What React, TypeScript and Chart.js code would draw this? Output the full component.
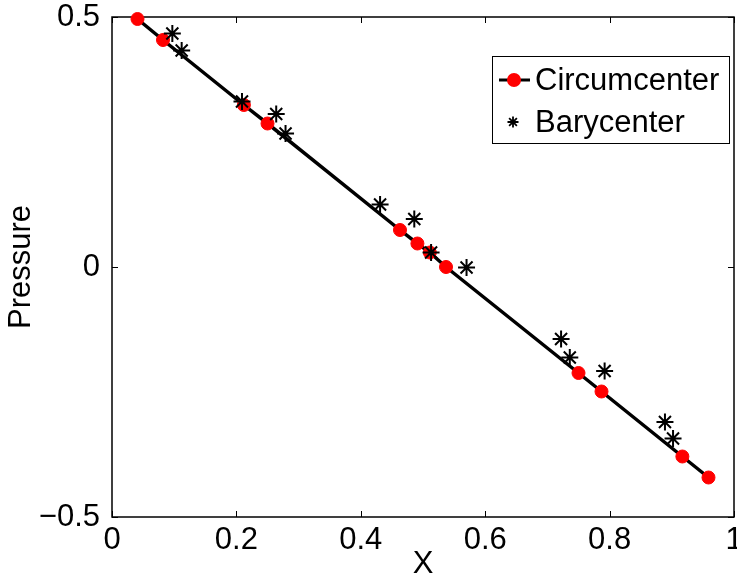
import React, { useEffect, useRef } from "react";
import { Chart, registerables } from "chart.js";

Chart.register(...registerables);

const circX = [0.041, 0.082, 0.212, 0.25, 0.463, 0.491, 0.511, 0.537, 0.75, 0.787, 0.917, 0.959];
const circY = [0.496, 0.454, 0.324, 0.287, 0.074, 0.047, 0.029, 0.0, -0.212, -0.249, -0.379, -0.421];
const baryX = [0.097, 0.112, 0.209, 0.264, 0.279, 0.431, 0.486, 0.513, 0.57, 0.722, 0.736, 0.792, 0.889, 0.902];
const baryY = [0.467, 0.433, 0.331, 0.306, 0.267, 0.125, 0.096, 0.029, -0.001, -0.144, -0.181, -0.208, -0.31, -0.343];
const xTicks = [0, 0.2, 0.4, 0.6, 0.8, 1];
const yTicks = [-0.5, 0, 0.5];
const seriesNames = ["Circumcenter", "Barycenter"];

const FONT = "'Liberation Sans', Arial, Helvetica, sans-serif";

function fmt(v: number): string {
  const s = String(Number(v.toFixed(2)));
  return s.replace("-", "\u2212");
}

function drawStar(ctx: CanvasRenderingContext2D, x: number, y: number, r: number) {
  ctx.beginPath();
  ctx.moveTo(x - r, y);
  ctx.lineTo(x + r, y);
  ctx.moveTo(x, y - r);
  ctx.lineTo(x, y + r);
  const d = r * Math.SQRT1_2;
  ctx.moveTo(x - d, y - d);
  ctx.lineTo(x + d, y + d);
  ctx.moveTo(x - d, y + d);
  ctx.lineTo(x + d, y - d);
  ctx.stroke();
}

const framePlugin = {
  id: "matlabFrame",
  beforeDatasetsDraw(chart: any) {
    const { ctx, chartArea } = chart;
    const { left, right, top, bottom } = chartArea;
    const xs = chart.scales.x;
    const ys = chart.scales.y;
    ctx.save();
    ctx.strokeStyle = "#000";
    ctx.lineWidth = 1.5;
    ctx.strokeRect(left, top, right - left, bottom - top);
    ctx.lineWidth = 1;
    const tl = 6;
    ctx.beginPath();
    for (const v of xTicks) {
      const px = Math.round(xs.getPixelForValue(v)) + 0.5;
      ctx.moveTo(px, bottom);
      ctx.lineTo(px, bottom - tl);
      ctx.moveTo(px, top);
      ctx.lineTo(px, top + tl);
    }
    for (const v of yTicks) {
      const py = Math.round(ys.getPixelForValue(v)) + 0.5;
      ctx.moveTo(left, py);
      ctx.lineTo(left + tl, py);
      ctx.moveTo(right, py);
      ctx.lineTo(right - tl, py);
    }
    ctx.stroke();
    ctx.fillStyle = "#000";
    ctx.font = `31px ${FONT}`;
    ctx.textAlign = "center";
    ctx.textBaseline = "alphabetic";
    for (const v of xTicks) {
      ctx.fillText(fmt(v), xs.getPixelForValue(v), bottom + 32);
    }
    ctx.restore();
  },
  afterDraw(chart: any) {
    const { ctx, chartArea } = chart;
    const bx = chartArea.right - 242;
    const by = chartArea.top + 39;
    const bw = 237;
    const bh = 87;
    ctx.save();
    ctx.fillStyle = "#fff";
    ctx.fillRect(bx, by, bw, bh);
    ctx.strokeStyle = "#000";
    ctx.lineWidth = 1;
    ctx.strokeRect(bx + 0.5, by + 0.5, bw, bh);
    const y1 = by + 24;
    const y2 = by + 66;
    ctx.lineWidth = 3;
    ctx.beginPath();
    ctx.moveTo(bx + 7, y1);
    ctx.lineTo(bx + 38, y1);
    ctx.stroke();
    ctx.fillStyle = "#ff0000";
    ctx.beginPath();
    ctx.arc(bx + 22, y1, 7, 0, Math.PI * 2);
    ctx.fill();
    ctx.lineWidth = 1.8;
    ctx.strokeStyle = "#000";
    drawStar(ctx, bx + 21, y2, 5.5);
    ctx.fillStyle = "#000";
    ctx.font = `31px ${FONT}`;
    ctx.textBaseline = "middle";
    ctx.textAlign = "left";
    ctx.fillText(seriesNames[0], bx + 43, y1 + 1);
    ctx.fillText(seriesNames[1], bx + 43, y2 + 1);
    ctx.restore();
  },
};

export default function App() {
  const ref = useRef<HTMLCanvasElement | null>(null);
  useEffect(() => {
    document.body.style.margin = "0";
    const canvas = ref.current;
    if (!canvas) return;
    const circ = circX.map((x, i) => ({ x, y: circY[i] }));
    const bary = baryX.map((x, i) => ({ x, y: baryY[i] }));
    const chart = new Chart(canvas, {
      type: "scatter",
      data: {
        datasets: [
          {
            label: seriesNames[0],
            data: circ,
            showLine: true,
            borderColor: "#000",
            borderWidth: 3.5,
            pointBackgroundColor: "#ff0000",
            pointBorderColor: "#ff0000",
            pointBorderWidth: 1,
            pointRadius: 6.5,
            pointStyle: "circle",
            clip: false as any,
            order: 1,
          } as any,
          {
            label: seriesNames[1],
            data: bary,
            showLine: false,
            borderColor: "#000",
            backgroundColor: "#000",
            pointBorderColor: "#000",
            pointBorderWidth: 2,
            pointRadius: 8.5,
            pointStyle: "star",
            clip: false as any,
            order: 0,
          } as any,
        ],
      },
      options: {
        responsive: false,
        animation: false,
        devicePixelRatio: 1,
        layout: { autoPadding: false, padding: { top: 17, right: 3, left: 0, bottom: 0 } },
        plugins: {
          legend: { display: false },
          tooltip: { enabled: false },
        },
        scales: {
          x: {
            type: "linear",
            min: 0,
            max: 1,
            afterBuildTicks: (s: any) => {
              s.ticks = xTicks.map((v) => ({ value: v }));
            },
            afterFit: (s: any) => {
              s.height = 63;
              s.paddingLeft = 0;
              s.paddingRight = 0;
            },
            grid: { display: false },
            border: { display: false },
            ticks: { display: false },
            title: {
              display: true,
              text: "X",
              color: "#000",
              font: { family: FONT, size: 31, lineHeight: 1.0 },
              padding: { top: 0, bottom: 0 },
            },
          },
          y: {
            type: "linear",
            min: -0.5,
            max: 0.5,
            afterBuildTicks: (s: any) => {
              s.ticks = yTicks.map((v) => ({ value: v }));
            },
            afterFit: (s: any) => {
              s.width = 112;
              s.paddingTop = 0;
              s.paddingBottom = 0;
            },
            grid: { display: false },
            border: { display: false },
            ticks: {
              color: "#000",
              font: { family: FONT, size: 31 },
              padding: 4,
              autoSkip: false,
              callback: (v: any) => fmt(Number(v)),
            },
            title: {
              display: true,
              text: "Pressure",
              color: "#000",
              font: { family: FONT, size: 31, lineHeight: 1.0 },
              padding: { top: 6, bottom: 0 },
            },
          },
        },
      },
      plugins: [framePlugin],
    });
    return () => chart.destroy();
  }, []);
  return (
    <div style={{ width: 737, height: 580, background: "#fff" }}>
      <canvas ref={ref} width={737} height={580} style={{ display: "block" }} />
    </div>
  );
}
